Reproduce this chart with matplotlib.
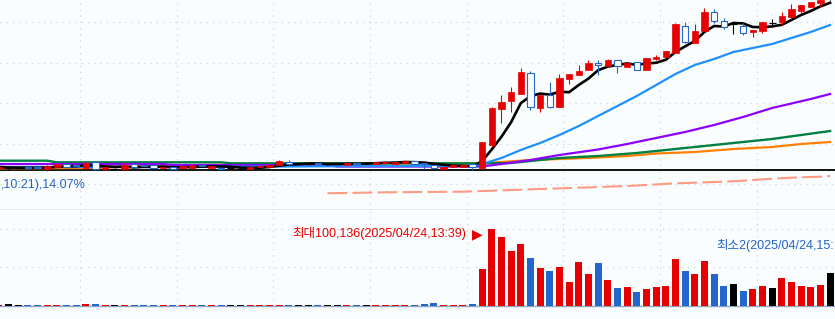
#!/usr/bin/env python
# -*- coding: utf-8 -*-

import numpy as np
import pandas as pd
from matplotlib import pyplot as plt

# one candle per minute, index 0..86 (price in won)
opens = [10020, 10020, 10020, 10030, 10030, 10010, 10030, 10060, 10050, 10020,
         10080, 10010, 10010, 10010, 10060, 10050, 10050, 10020, 10030, 10020,
         10020, 10050, 10020, 10020, 10020, 10010, 10010, 10030, 10030, 10050,
         10080, 10060, 10060, 10070, 10060, 10060, 10050, 10070, 10070, 10060,
         10070, 10060, 10070, 10090, 10070, 10050, 10010, 10030, 10030, 10060,
         10020, 10250, 10610, 10690, 10760, 10970, 10620, 10750, 10630, 10910,
         10950, 11000, 11070, 11040, 11100, 11030, 11080, 11000, 11110, 11130,
         11170, 11440, 11270, 11390, 11580, 11490, 11460, 11440, 11380, 11390,
         11470, 11480, 11530, 11590, 11630, 11670, 11720]
highs = [10040, 10040, 10030, 10040, 10040, 10050, 10060, 10060, 10050, 10080,
         10090, 10030, 10020, 10070, 10060, 10050, 10050, 10030, 10030, 10040,
         10050, 10050, 10040, 10020, 10030, 10020, 10030, 10040, 10050, 10100,
         10100, 10070, 10070, 10070, 10070, 10070, 10070, 10070, 10080, 10080,
         10090, 10080, 10090, 10090, 10070, 10050, 10030, 10050, 10050, 10060,
         10280, 10630, 10750, 10830, 11020, 10990, 10750, 10880, 10960, 10960,
         11050, 11100, 11100, 11110, 11100, 11070, 11080, 11120, 11150, 11190,
         11470, 11480, 11460, 11620, 11610, 11520, 11480, 11470, 11400, 11480,
         11510, 11580, 11660, 11650, 11680, 11700, 11740]
lows = [10010, 10000, 10010, 10010, 10020, 9990, 10030, 10030, 10040, 10010,
        10000, 10000, 10000, 10000, 10030, 10040, 10020, 10020, 10010, 10020,
        10020, 10040, 10020, 10010, 10010, 10000, 10010, 10030, 10030, 10050,
        10040, 10050, 10050, 10060, 10050, 10050, 10050, 10060, 10060, 10060,
        10070, 10060, 10070, 10060, 10010, 10020, 10010, 10030, 10030, 10000,
        10010, 10230, 10470, 10580, 10760, 10600, 10580, 10620, 10630, 10860,
        10950, 11000, 10950, 11040, 10970, 11030, 11000, 11000, 11100, 11130,
        11170, 11270, 11270, 11390, 11470, 11410, 11360, 11350, 11330, 11370,
        11430, 11450, 11510, 11570, 11630, 11630, 11700]
closes = [10030, 10020, 10020, 10020, 10020, 10040, 10060, 10030, 10040, 10070,
          10010, 10030, 10010, 10050, 10030, 10040, 10020, 10030, 10010, 10040,
          10050, 10040, 10040, 10010, 10020, 10010, 10030, 10040, 10050, 10090,
          10060, 10060, 10060, 10060, 10060, 10060, 10070, 10060, 10070, 10080,
          10080, 10080, 10090, 10060, 10060, 10020, 10030, 10050, 10050, 10030,
          10280, 10620, 10680, 10780, 10980, 10630, 10750, 10630, 10920, 10960,
          10990, 11070, 11050, 11100, 11040, 11070, 11000, 11120, 11130, 11190,
          11460, 11280, 11390, 11580, 11490, 11430, 11460, 11370, 11400, 11480,
          11470, 11540, 11610, 11650, 11680, 11700, 11720]
volumes = [1300, 2600, 1300, 1300, 1300, 1300, 1300, 1300, 1300, 2600,
           2600, 1300, 1300, 1300, 1300, 1300, 1300, 1300, 1300, 1300,
           1300, 1300, 1300, 1300, 1300, 1300, 1300, 1300, 1300, 1300,
           1300, 1300, 1300, 1300, 1300, 1300, 1300, 1300, 1300, 1300,
           1300, 1300, 1300, 1300, 3000, 4300, 1300, 1300, 1300, 3000,
           48000, 100136, 90000, 71400, 80500, 62300, 49400, 45500, 50600, 31200,
           57100, 41600, 55800, 33800, 23400, 24700, 18200, 22100, 24700, 26000,
           61000, 45500, 41600, 58400, 41600, 26000, 28600, 19500, 22100, 26000,
           23400, 36400, 31200, 26000, 24700, 27300, 42900]

# longer moving averages at some candle indices
ma20_idx = [0, 20, 40, 49, 50, 52, 54, 56, 58, 60, 62, 64, 66, 68, 70, 72, 74, 76, 78, 80, 82, 84, 86]
ma20_val = [10030, 10030, 10040, 10040, 10060, 10120, 10200, 10270, 10350, 10440, 10540, 10640,
            10740, 10850, 10960, 11050, 11110, 11180, 11220, 11260, 11320, 11380, 11450]
ma60_idx = [0, 17, 18, 34, 35, 50, 52, 55, 58, 62, 65, 68, 71, 74, 77, 80, 84, 86]
ma60_val = [10060, 10060, 10050, 10050, 10035, 10035, 10060, 10100, 10150, 10205, 10260, 10320,
            10380, 10450, 10530, 10620, 10710, 10760]
ma120_idx = [0, 5, 6, 23, 24, 50, 53, 58, 62, 66, 68, 72, 76, 80, 83, 86]
ma120_val = [10093, 10093, 10077, 10077, 10067, 10067, 10070, 10120, 10140, 10170, 10190, 10230,
             10270, 10310, 10350, 10390]
ma240_idx = [0, 10, 15, 25, 35, 50, 52, 55, 58, 62, 65, 68, 72, 76, 80, 83, 86]
ma240_val = [10017, 10020, 10040, 10055, 10065, 10065, 10080, 10100, 10110, 10125, 10140, 10165,
             10180, 10210, 10230, 10260, 10280]
low_idx = [34, 36, 40, 44, 48, 51, 63, 65, 67, 70, 72, 75, 77, 80, 82, 85, 86]
low_val = [9767, 9770, 9777, 9780, 9783, 9793, 9833, 9840, 9850, 9867, 9873, 9883, 9893, 9913,
           9923, 9933, 9940]

base_price = 10000
price_grid = [11480, 11070, 10670, 10260, 9860]
vol_grid = [50000, 100000]
time_grid = [8.4, 18.4, 28.4, 38.4, 48.4, 58.4, 68.4, 78.4]

BG = '#fafdfd'
RED = '#e60000'
BLUE = '#2366cc'
TXT_BLUE = '#2462c4'
EDGE = '#8ea6c2'
GRID = '#d2d6da'
FONT = ['Liberation Sans', 'Noto Sans CJK KR']


def main():
    o = np.array(opens)
    h = np.array(highs)
    l = np.array(lows)
    c = np.array(closes)
    x = np.arange(len(c))
    up = c > o
    down = c < o
    doji = c == o
    cols = np.where(up, RED, np.where(down, BLUE, 'black'))
    ma5 = pd.Series(closes).rolling(5, min_periods=1).mean()

    fig = plt.figure(figsize=(8.35, 3.19), dpi=100, facecolor=BG)
    ax = fig.add_axes([0, 109 / 319, 1, 210 / 319], facecolor=BG)
    axv = fig.add_axes([0, 13 / 319, 1, 96 / 319], facecolor=BG)

    for a in (ax, axv):
        a.set_xlim(0.12, 86.51)
        a.set_xticks([])
        a.set_yticks([])
        for s in ('top', 'left', 'right'):
            a.spines[s].set_visible(False)
        a.spines['bottom'].set_color(EDGE)
        a.spines['bottom'].set_linewidth(1.0)
        for gx in time_grid:
            a.axvline(gx, color=GRID, lw=0.9, ls=(0, (1, 4)), zorder=0)

    # price panel
    ax.set_ylim(9600, 11700)
    for gy in price_grid:
        ax.axhline(gy, color=GRID, lw=0.9, ls=(0, (1, 4)), zorder=0)
    ax.axhline(base_price, color='black', lw=1.3, zorder=1)

    ax.plot(low_idx, low_val, color='#ff9a84', lw=1.5, ls=(0, (9.5, 2.5)), zorder=2)
    ax.plot(ma240_idx, ma240_val, color='#ff8000', lw=1.6, zorder=2)
    ax.plot(ma120_idx, ma120_val, color='#008040', lw=1.7, zorder=2)
    ax.plot(ma60_idx, ma60_val, color='#8b00ff', lw=1.6, zorder=2)
    ax.plot(ma20_idx, ma20_val, color='#1e90ff', lw=1.6, zorder=2)
    ax.plot(x, ma5, color='black', lw=1.9, zorder=2)

    ax.vlines(x, l, h, colors=cols, lw=0.8, zorder=3)
    ax.bar(x[up], (c - o)[up], bottom=o[up], width=0.66, color=RED,
           edgecolor=RED, lw=0.5, zorder=4)
    ax.bar(x[down], (o - c)[down], bottom=c[down], width=0.66, facecolor=BG,
           edgecolor=BLUE, lw=0.8, zorder=4)
    ax.hlines(o[doji], x[doji] - 0.36, x[doji] + 0.36, colors='black', lw=0.8, zorder=4)

    # volume panel
    axv.set_ylim(0, 124675)
    for gy in vol_grid:
        axv.axhline(gy, color=GRID, lw=0.9, ls=(0, (1, 4)), zorder=0)
    axv.bar(x, volumes, width=0.72, color=cols, zorder=3)

    vmax = max(volumes)
    fig.text(1 / 835, 1 - 185 / 319, ",10:21),14.07%", ha='left', va='center',
             color=TXT_BLUE, fontsize=9, family=FONT)
    fig.text(466 / 835, 1 - 234 / 319, "최대{:,}(2025/04/24,13:39)".format(vmax), ha='right',
             va='center', color=RED, fontsize=9, family=FONT)
    fig.text(477.5 / 835, 1 - 234 / 319, "▶", ha='center', va='center', color=RED,
             fontsize=10, family='DejaVu Sans')
    fig.text(716 / 835, 1 - 246 / 319, "최소2(2025/04/24,15:", ha='left', va='center',
             color=TXT_BLUE, fontsize=9, family=FONT)

    fig.savefig('out.png', dpi=100, facecolor=BG)


if __name__ == '__main__':
    main()
